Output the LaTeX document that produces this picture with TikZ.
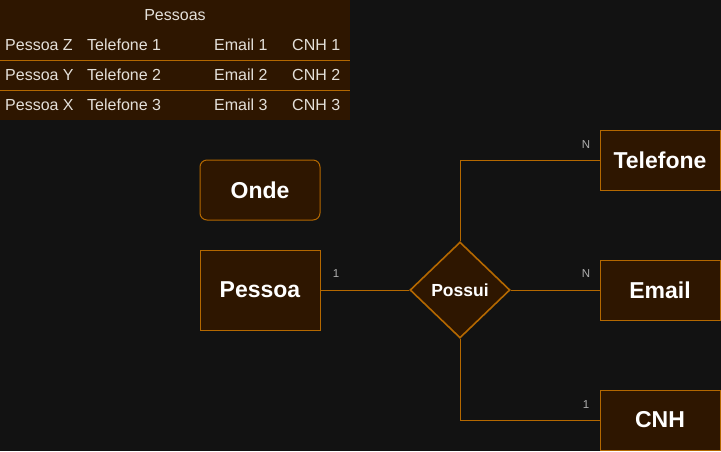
\documentclass[tikz,border=0pt]{standalone}
\usepackage{fontspec}
\setmainfont{Liberation Sans}
\usetikzlibrary{shapes.geometric}

\definecolor{bgdark}{RGB}{18,18,18}
\definecolor{brfill}{RGB}{46,22,0}
\definecolor{brline}{RGB}{180,104,0}
\definecolor{txtlight}{RGB}{228,224,218}
\definecolor{txtgrey}{RGB}{175,175,175}

\begin{document}
\begin{tikzpicture}[x=1pt, y=-1pt,
    entity/.style={draw=brline, fill=brfill, line width=1pt, text=white,
        minimum width=120pt, minimum height=60pt, inner sep=0pt,
        font=\fontsize{23}{23}\selectfont\bfseries},
    relation/.style={diamond, draw=brline, fill=brfill, line width=1.6pt, text=white,
        minimum width=100pt, minimum height=96pt, inner sep=0pt,
        font=\fontsize{17.5}{17.5}\selectfont\bfseries},
    conn/.style={draw=brline, line width=1pt},
    card/.style={text=txtgrey, inner sep=0pt, font=\fontsize{11.5}{11.5}\selectfont},
    cell/.style={text=txtlight, anchor=west, inner sep=0pt, font=\fontsize{16}{16}\selectfont}]

    \useasboundingbox (0,0) rectangle (721,451);
    \fill[bgdark] (0,0) rectangle (721,451);

    % table
    \fill[brfill] (0,0) rectangle (350,120);
    \draw[conn] (0,60) -- (350,60);
    \draw[conn] (0,90) -- (350,90);
    \node[cell, anchor=center] (pessoas) at (175,15) {Pessoas};
    \foreach \n/\p in {1/Z, 2/Y, 3/X} {
        \node[cell] (pe\n) at (5,15+30*\n) {Pessoa \p};
        \node[cell] (te\n) at (87,15+30*\n) {Telefone \n};
        \node[cell] (em\n) at (214,15+30*\n) {Email \n};
        \node[cell] (cn\n) at (292,15+30*\n) {CNH \n};
    }

    % diagram
    \node[entity, rounded corners=7pt] (onde) at (260,190) {Onde};
    \node[entity, minimum height=80pt] (pessoa) at (260,290) {Pessoa};
    \node[relation] (possui) at (460,290) {Possui};
    \node[entity] (telefone) at (660,160) {Telefone};
    \node[entity] (email) at (660,290) {Email};
    \node[entity] (cnh) at (660,420) {CNH};

    \draw[conn] (pessoa) -- (possui);
    \draw[conn] (possui) |- (telefone);
    \draw[conn] (possui) -- (email);
    \draw[conn] (possui) |- (cnh);

    \node[card] (k1) at (336,274) {1};
    \node[card] (k2) at (586,145) {N};
    \node[card] (k3) at (586,274) {N};
    \node[card] (k4) at (586,405) {1};
\end{tikzpicture}
\end{document}
